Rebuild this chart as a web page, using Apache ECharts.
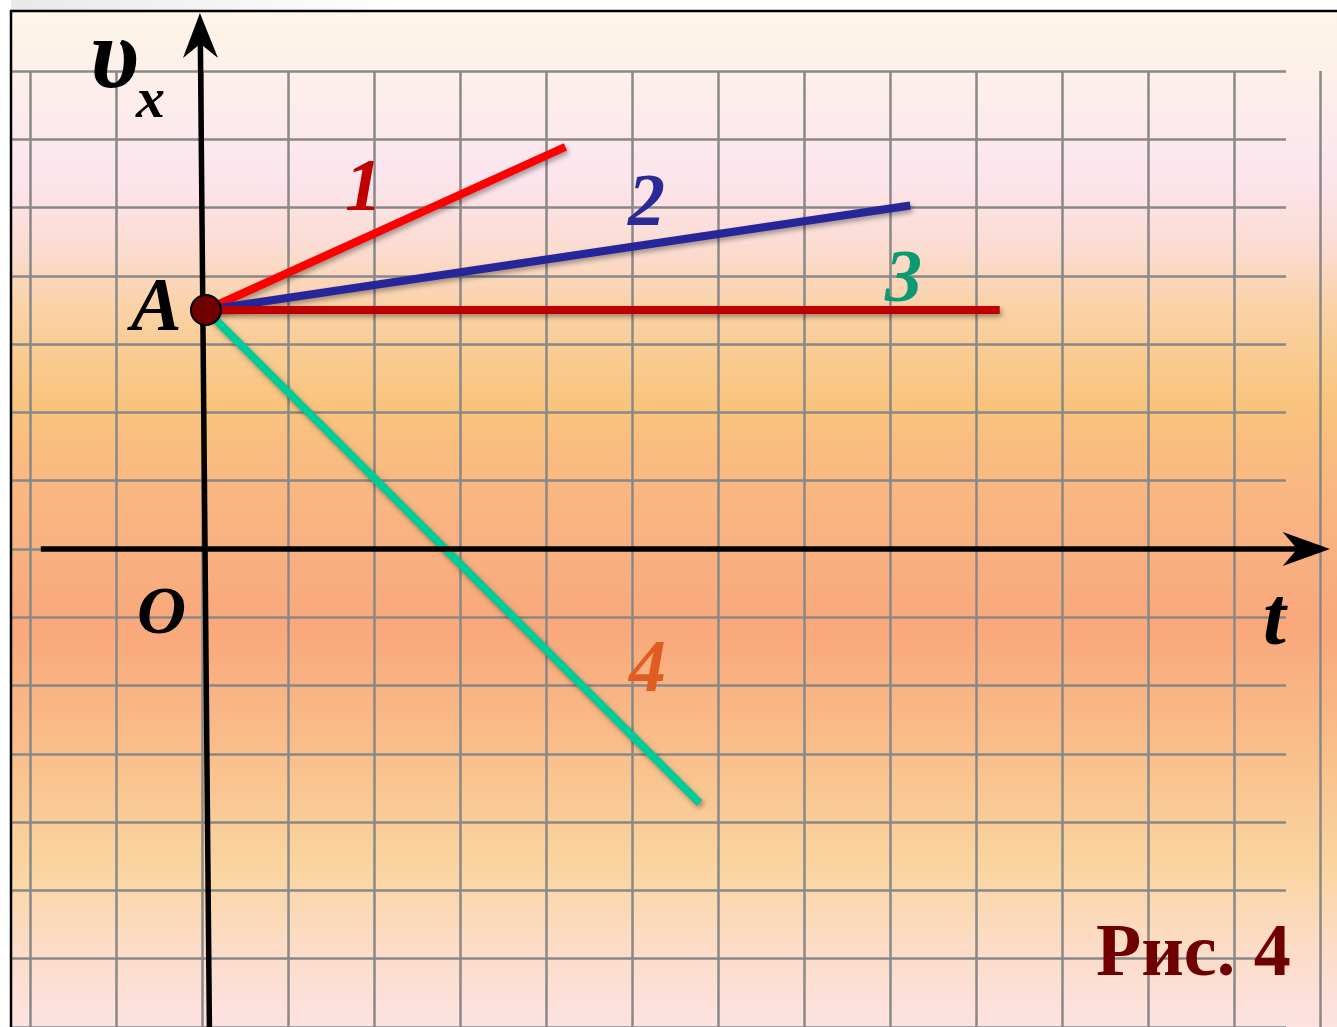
<!DOCTYPE html>
<html>
<head>
<meta charset="utf-8">
<title>Рис. 4</title>
<script src="https://cdn.jsdelivr.net/npm/echarts@6/dist/echarts.min.js"></script>
<style>
  html, body { margin: 0; padding: 0; background: #fff; }
  #main { width: 1337px; height: 1027px; }
</style>
</head>
<body>
<div id="main"></div>
<script>
// оси (клеточки)
const tRange = [-2, 13];
const vRange = [-7, 7];

// точка A и концы графиков 1..4
const pointA = [0.04, 3.5];
const lineNames = ['1', '2', '3', '4'];
const endT = [4.22, 8.23, 9.27, 5.78];
const endV = [5.89, 5.03, 3.5, -3.72];

const lineColors = ['#ff0000', '#26269a', '#c00000', '#00cc98'];

const chart = echarts.init(document.getElementById('main'));

const gridLine = { show: true, lineStyle: { color: '#888', width: 2.5 } };
const off = { show: false };

const series = lineNames.map((name, i) => ({
  name: name,
  type: 'line',
  xAxisIndex: 0,
  yAxisIndex: 0,
  symbol: 'none',
  data: [pointA, [endT[i], endV[i]]],
  lineStyle: {
    color: lineColors[i], width: 8,
    shadowColor: 'rgba(0,0,0,0.35)', shadowBlur: 5, shadowOffsetX: 2, shadowOffsetY: 3
  },
  z: 3
}));
series.push({
  type: 'scatter',
  xAxisIndex: 0,
  yAxisIndex: 0,
  data: [pointA],
  symbolSize: 30,
  itemStyle: { color: '#6e0000', borderColor: '#000', borderWidth: 2, opacity: 1 },
  z: 10
});

chart.setOption({
  animation: false,
  backgroundColor: {
    type: 'linear', x: 0, y: 0, x2: 0, y2: 1,
    colorStops: [
      { offset: 0, color: '#fdf7ee' },
      { offset: 0.03, color: '#fdf4e8' },
      { offset: 0.17, color: '#fce5ee' },
      { offset: 0.24, color: '#fbdcd2' },
      { offset: 0.30, color: '#fad2a6' },
      { offset: 0.39, color: '#f9c47e' },
      { offset: 0.50, color: '#f9b482' },
      { offset: 0.61, color: '#f9a87b' },
      { offset: 0.72, color: '#f9bc8a' },
      { offset: 0.84, color: '#fad49e' },
      { offset: 0.92, color: '#fcdcc6' },
      { offset: 1, color: '#fde2e2' }
    ]
  },
  grid: [
    { left: 30.5, right: 16.5, top: 71, bottom: 0 },
    { left: 11, right: 51, top: 71, bottom: 0 }
  ],
  xAxis: [
    { type: 'value', gridIndex: 0, min: tRange[0], max: tRange[1], interval: 1,
      axisLine: off, axisTick: off, axisLabel: off, splitLine: gridLine },
    { type: 'value', gridIndex: 1, min: tRange[0], max: tRange[1], interval: 1,
      axisLine: off, axisTick: off, axisLabel: off, splitLine: off }
  ],
  yAxis: [
    { type: 'value', gridIndex: 0, min: vRange[0], max: vRange[1], interval: 1,
      axisLine: off, axisTick: off, axisLabel: off, splitLine: off },
    { type: 'value', gridIndex: 1, min: vRange[0], max: vRange[1], interval: 1,
      axisLine: off, axisTick: off, axisLabel: off, splitLine: gridLine }
  ],
  series: series
});

// чёрные оси со стрелками
const px = (p) => chart.convertToPixel({ gridIndex: 0 }, p);
const xAxisLine = [px([-1.88, 0]), px([12.75, 0])];
const xArrow = [px([13.11, 0]), px([12.56, 0.25]), px([12.73, 0]), px([12.56, -0.25])];
const yAxisLine = [px([0.081, -7.1]), px([-0.025, 7.45])];
const yArrow = [px([-0.03, 7.85]), px([-0.227, 7.19]), px([-0.025, 7.4]), px([0.18, 7.19])];

const txt = (text, left, baseline, size, color, font) => ({
  type: 'text',
  z: 120,
  style: {
    text: text,
    x: left,
    y: baseline - size * 0.27,
    font: (font || 'italic bold') + ' ' + size + 'px "Liberation Serif", serif',
    fill: color,
    textAlign: 'left',
    textVerticalAlign: 'middle'
  }
});

chart.setOption({
  graphic: [
    { type: 'rect', z: 100, shape: { x: 0, y: 0, width: 1337, height: 11 },
      style: { fill: { type: 'linear', x: 0, y: 0, x2: 1, y2: 0,
        colorStops: [{ offset: 0, color: '#e8e8e8' }, { offset: 0.3, color: '#ffffff' }, { offset: 1, color: '#ffffff' }] } } },
    { type: 'rect', z: 100, shape: { x: 0, y: 0, width: 11, height: 1027 }, style: { fill: '#fff' } },
    { type: 'line', z: 101, shape: { x1: 10, y1: 11, x2: 1337, y2: 11 }, style: { stroke: '#000', lineWidth: 2.5 } },
    { type: 'line', z: 101, shape: { x1: 11, y1: 10, x2: 11, y2: 1027 }, style: { stroke: '#000', lineWidth: 2.5 } },

    { type: 'polyline', z: 5, shape: { points: xAxisLine }, style: { stroke: '#000', lineWidth: 5.5 } },
    { type: 'polygon', z: 5, shape: { points: xArrow }, style: { fill: '#000' } },
    { type: 'polyline', z: 5, shape: { points: yAxisLine }, style: { stroke: '#000', lineWidth: 5.5 } },
    { type: 'polygon', z: 5, shape: { points: yArrow }, style: { fill: '#000' } },

    txt('υ', 90, 88, 100, '#000'),
    txt('x', 136, 118, 58, '#000'),
    txt('A', 131, 331, 76, '#000'),
    txt('O', 137, 634, 68, '#000'),
    txt('t', 1263, 645, 82, '#000'),
    txt('1', 345, 211, 74, '#c00000'),
    txt('2', 628, 226, 74, '#2a2a96'),
    txt('3', 885, 302, 74, '#0c9a72'),
    txt('4', 629, 692, 74, '#e05d20'),
    txt('Рис. 4', 1096, 976, 74, '#700000', 'bold')
  ]
});
</script>
</body>
</html>
